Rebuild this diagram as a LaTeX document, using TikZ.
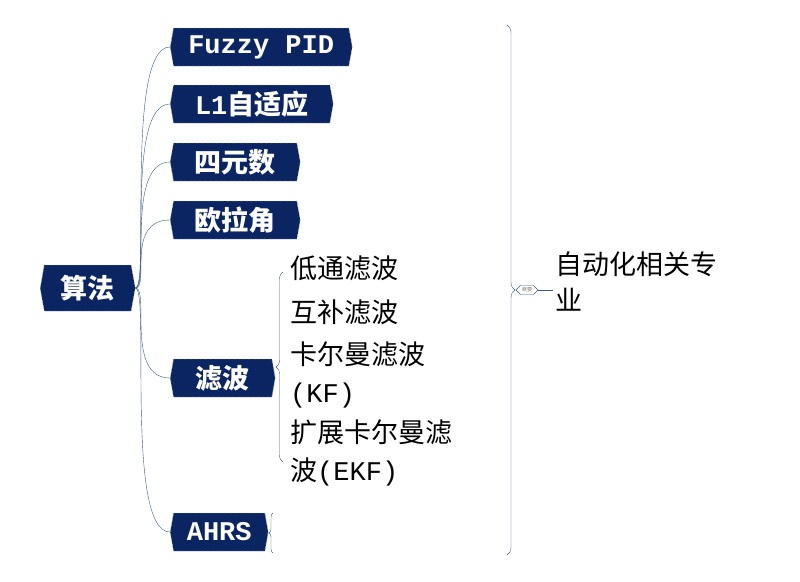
\documentclass[tikz,border=0pt]{standalone}
\usepackage{fontspec}
\setmainfont{Liberation Mono}
\newfontfamily\cjk{Noto Sans CJK SC}
\usetikzlibrary{shapes.symbols,decorations.pathreplacing,calc}
\definecolor{navy}{HTML}{0B2462}
\definecolor{edgeblue}{HTML}{3A5A80}
\begin{document}
\begin{tikzpicture}[x=1pt,y=-1pt,
  topic/.style={signal, signal to=east and west, signal pointer angle=160, fill=navy, draw=gray!60, densely dashed,
    text=white, font=\fontsize{27}{28}\selectfont\bfseries, inner xsep=4pt, inner ysep=4pt, anchor=west},
  leaf/.style={font=\fontsize{27}{38}\selectfont, anchor=north west, align=left, inner sep=0pt},
  link/.style={edgeblue, thin},
]
  \useasboundingbox (0,0) rectangle (800,581);
  \node[topic, minimum height=46pt, minimum width=95pt] (root) at (40,288) {\cjk 算法};
  \node[topic, minimum height=38pt, minimum width=182pt] (fuzzy) at (170,47) {Fuzzy PID};
  \node[topic, minimum height=38pt, minimum width=163pt] (lone) at (170,104) {L1{\cjk 自适应}};
  \node[topic, minimum height=38pt, minimum width=130pt] (quat) at (170,162) {\cjk 四元数};
  \node[topic, minimum height=38pt, minimum width=130pt] (euler) at (170,220) {\cjk 欧拉角};
  \node[topic, minimum height=38pt, minimum width=105pt] (filter) at (170,378) {\cjk 滤波};
  \node[topic, minimum height=38pt, minimum width=98pt] (ahrs) at (170,532) {AHRS};
  \foreach \n in {fuzzy,lone,quat,euler,filter,ahrs}
    \draw[link] (root.east) .. controls (150,288) and (125,0|-\n.west) .. (\n.west);
  % filter leaves
  \node[leaf] (lp) at (290,256) {\cjk 低通滤波};
  \node[leaf] (cf) at (290,300) {\cjk 互补滤波};
  \node[leaf] (kf) at (290,342) {{\cjk 卡尔曼滤波}\\(KF)};
  \node[leaf] (ekf) at (290,420) {{\cjk 扩展卡尔曼滤}\\{\cjk 波}(EKF)};
  \draw[link, decorate, decoration={brace, amplitude=7pt, mirror}] (283,272) -- (283,462);
  \draw[link, decorate, decoration={brace, amplitude=4pt, mirror}] (273,513) -- (273,553);
  % summary
  \draw[link, decorate, decoration={brace, amplitude=8pt, mirror}] (507,555) -- (507,25);
  \node[signal, signal to=east and west, draw=edgeblue, fill=white, font=\fontsize{5}{6}\selectfont\cjk,
    text=gray, inner sep=1.5pt, minimum height=9pt, minimum width=22pt] (sum) at (527,290) {概要};
  \node[leaf, font=\fontsize{27}{36}\selectfont\cjk] (auto) at (555,252) {自动化相关专\\业};
  \draw[link] (sum.east) -- (553,290);
\end{tikzpicture}
\end{document}
